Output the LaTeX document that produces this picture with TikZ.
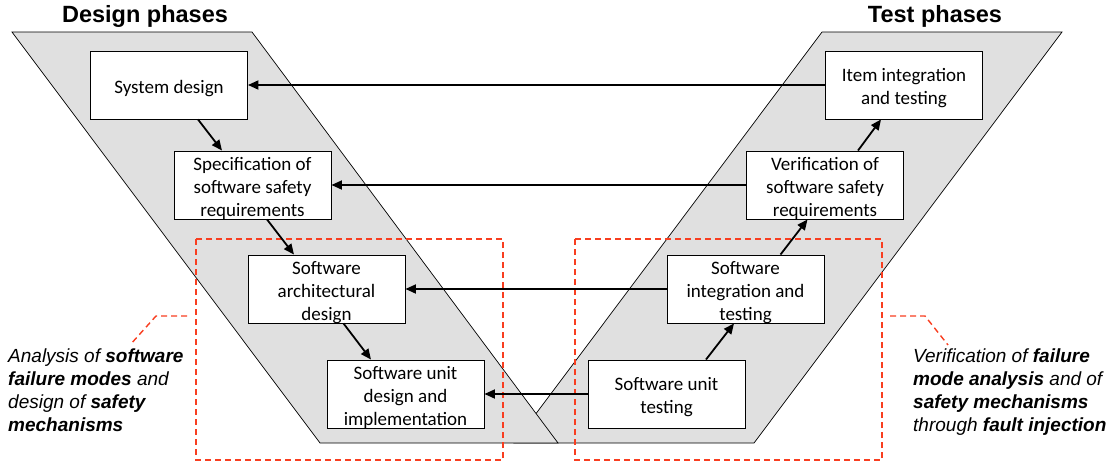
\documentclass[tikz,border=0pt]{standalone}
\usepackage{fontspec}
\setmainfont{Liberation Sans}
\newfontfamily\boxfont{Carlito}
\usetikzlibrary{arrows.meta}
\definecolor{phasegrey}{RGB}{224,224,224}
\definecolor{dashred}{RGB}{248,62,32}
\newcommand\stagebody[1]{\parbox[c][68pt][c]{157pt}{\centering\vspace*{7pt}#1\par}}
\begin{document}
\begin{tikzpicture}[x=1pt,y=-1pt,
  phase/.style={fill=phasegrey, draw=black, line width=0.7pt},
  stage/.style={draw=black, fill=white, line width=0.9pt, minimum width=157pt, minimum height=68pt, inner sep=0pt, font=\boxfont\fontsize{19}{23}\selectfont},
  flow/.style={line width=1.8pt, -{Triangle[length=10.5pt,width=9pt]}},
  focus/.style={draw=dashred, line width=1.4pt, dash pattern=on 6pt off 4pt},
  note/.style={font=\itshape\fontsize{19}{23}\selectfont, align=left, anchor=north west, inner sep=0pt},
  title/.style={font=\bfseries\fontsize{23.5}{27}\selectfont, anchor=base}]
\useasboundingbox (0,0) rectangle (1119,463);

% phase bands (right first, left on top)
\draw[phase] (822,32) -- (1062,32) -- (754,443) -- (514,443) -- cycle;
\draw[phase] (12,32) -- (252,32) -- (558,443) -- (320,443) -- cycle;

% titles
\node[title] (tdesign) at (145,22) {Design phases};
\node[title] (ttest) at (935,22) {Test phases};

% dashed focus regions
\draw[focus] (196,239) rectangle (503,460);
\draw[focus] (575,239) rectangle (882,460);

% stages
\node[stage] (sd) at (169,85) {\stagebody{System design}};
\node[stage] (spec) at (252.5,185) {\stagebody{Specification of\\software safety\\requirements}};
\node[stage] (arch) at (326.5,289) {\stagebody{Software\\architectural\\design}};
\node[stage] (unit) at (405.5,394) {\stagebody{Software unit\\design and\\implementation}};
\node[stage] (item) at (904,85) {\stagebody{Item integration\\and testing}};
\node[stage] (ver) at (825,185) {\stagebody{Verification of\\software safety\\requirements}};
\node[stage] (integ) at (745.5,289) {\stagebody{Software\\integration and\\testing}};
\node[stage] (ut) at (666.5,394) {\stagebody{Software unit\\testing}};

% design flow
\draw[flow] ([xshift=29pt]sd.south) -- ([xshift=-30.5pt]spec.north);
\draw[flow] ([xshift=14.5pt]spec.south) -- ([xshift=-32.5pt]arch.north);
\draw[flow] ([xshift=17pt]arch.south) -- ([xshift=-34.5pt]unit.north);
% test flow
\draw[flow] ([xshift=39.5pt]ut.north) -- ([xshift=-11.5pt]integ.south);
\draw[flow] ([xshift=35pt]integ.north) -- ([xshift=-17.5pt]ver.south);
\draw[flow] ([xshift=33pt]ver.north) -- ([xshift=-23pt]item.south);
% verification links
\draw[flow] (item.west) -- (sd.east);
\draw[flow] (ver.west) -- (spec.east);
\draw[flow] (integ.west) -- (arch.east);
\draw[flow] (ut.west) -- (unit.east);

% leaders
\coordinate (la) at (187,316);
\coordinate (lb) at (156,316);
\coordinate (lc) at (130,345);
\coordinate (ra) at (890,316);
\coordinate (rb) at (925,316);
\coordinate (rc) at (948,345);
\draw[focus] (la) -- (lb) -- (lc);
\draw[focus] (ra) -- (rb) -- (rc);

% notes
\node[note] (nleft) at (8,349) {Analysis of \textbf{software}\\\textbf{failure modes} and\\design of \textbf{safety}\\\textbf{mechanisms}};
\node[note] (nright) at (913,349) {Verification of \textbf{failure}\\\textbf{mode analysis} and of\\\textbf{safety mechanisms}\\through \textbf{fault injection}};
\end{tikzpicture}
\end{document}
